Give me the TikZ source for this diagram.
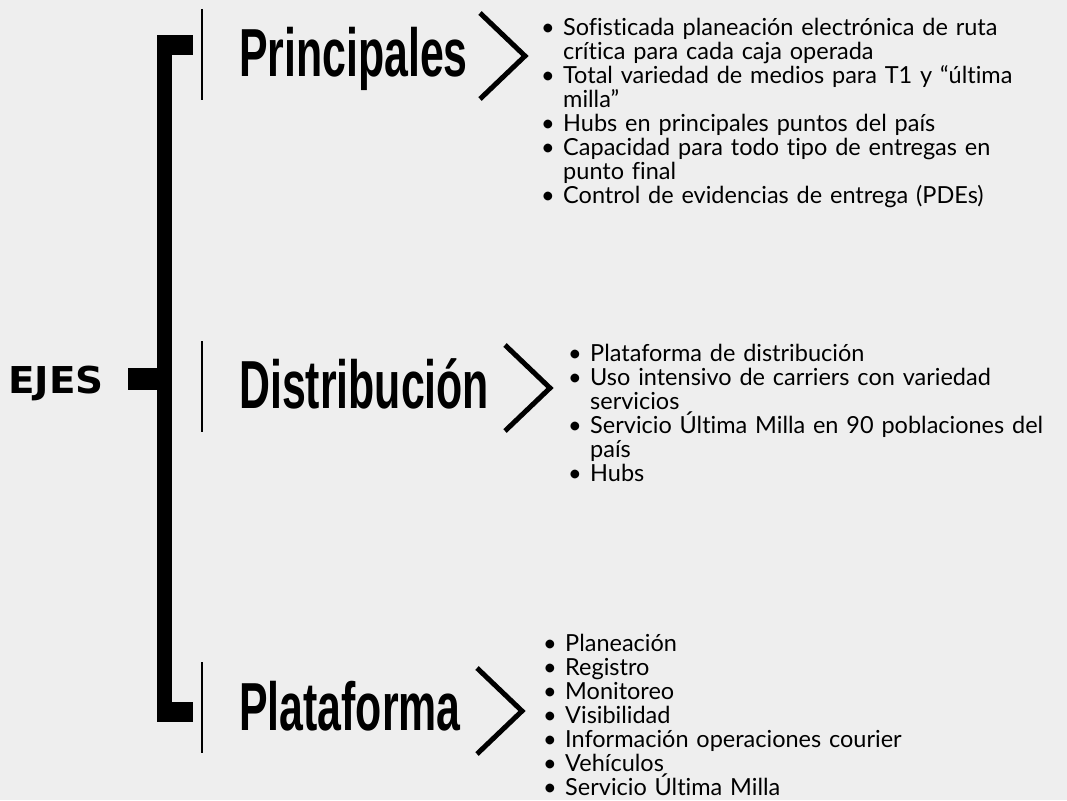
\documentclass[tikz,border=0pt]{standalone}
\usepackage{fontspec}
\setmainfont{Lato}[Ligatures=NoCommon]
\newfontfamily\titulofont[FakeStretch=0.63]{Liberation Sans}
\newfontfamily\ejesfont[FakeStretch=1.05]{DejaVu Sans}
\usetikzlibrary{positioning}

\definecolor{fondo}{RGB}{238,238,238}
\newcommand{\punto}{\par\hangindent=22pt\hangafter=1\noindent\makebox[22pt][l]{\textbullet}}
\newcommand{\listafont}{\fontsize{23.5}{24}\selectfont\lineskiplimit=-100pt\relax}

\tikzset{
  titulo/.style={anchor=base west, inner sep=0pt, font=\titulofont\bfseries\fontsize{68}{68}\selectfont},
  lista/.style={anchor=north west, inner sep=0pt, text width=520pt, align=left, font=\listafont},
  chevron/.style={line width=5pt, miter limit=10},
  divisor/.style={line width=2pt},
}

\begin{document}
\begin{tikzpicture}[x=1pt, y=-1pt]
% Background
\fill[fondo] (0,0) rectangle (1067,800);
\useasboundingbox (0,0) rectangle (1067,800);
% Root label
\node[anchor=base west, inner sep=0pt, font=\ejesfont\bfseries\fontsize{37}{37}\selectfont] (ejes) at (8,393) {EJES};
% Bracket
\coordinate (arriba) at (157,35);
\coordinate (abajo) at (157,722);
\fill (arriba) rectangle (193,55);
\fill (arriba) rectangle (172,722);
\fill (157,702) rectangle (193,722);
\fill (128,368) rectangle (172,390);
% Headings
\node[titulo] (prin) at (239,77) {Principales};
\node[titulo] (dist) at (239,408) {Distribución};
\node[titulo] (plat) at (239,730) {Plataforma};
% Dividers
\draw[divisor] (202,9) -- (202,100);
\draw[divisor] (202,341) -- (202,432);
\draw[divisor] (202,662) -- (202,753);
% Chevrons
\draw[chevron] (480,13) -- (525,56) -- (480,99);
\draw[chevron] (505,345) -- (550,388) -- (505,431);
\draw[chevron] (477,668) -- (522,711) -- (477,754);
% Lists
\node[lista] (lprin) at (541,11) {
  \punto Sofisticada planeación electrónica de ruta\newline crítica para cada caja operada
  \punto Total variedad de medios para T1 y “última\newline milla”
  \punto Hubs en principales puntos del país
  \punto Capacidad para todo tipo de entregas en\newline punto final
  \punto Control de evidencias de entrega (PDEs)};
\node[lista] (ldist) at (568,337) {
  \punto Plataforma de distribución
  \punto Uso intensivo de carriers con variedad\newline servicios
  \punto Servicio Última Milla en 90 poblaciones del\newline país
  \punto Hubs};
\node[lista] (lplat) at (543,627) {
  \punto Planeación
  \punto Registro
  \punto Monitoreo
  \punto Visibilidad
  \punto Información operaciones courier
  \punto Vehículos
  \punto Servicio Última Milla};
\end{tikzpicture}
\end{document}
